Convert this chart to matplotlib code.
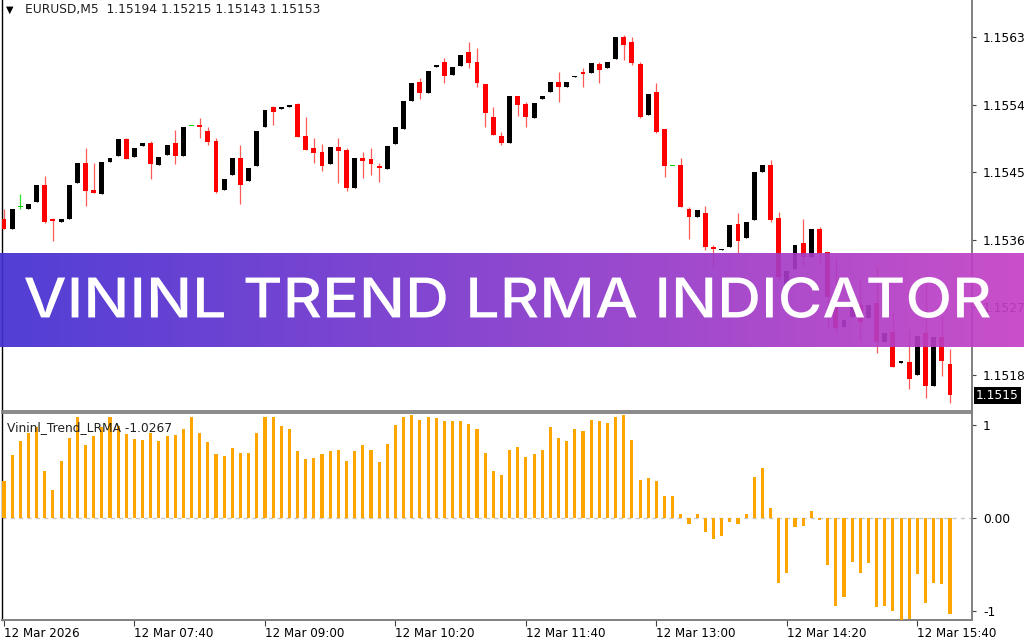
import numpy as np
import matplotlib
matplotlib.use("Agg")
import matplotlib.pyplot as plt
import matplotlib.transforms as mtransforms
from matplotlib.textpath import TextPath
from matplotlib.patches import PathPatch
from matplotlib.font_manager import FontProperties

# EURUSD M5, 12 Mar 2026, bars from 06:20 to 16:00
opens = [1.15388, 1.15374, 1.15404, 1.15401, 1.15410, 1.15433, 1.15388, 1.15384, 1.15388, 1.15436,
         1.15462, 1.15426, 1.15421, 1.15464, 1.15472, 1.15494, 1.15470, 1.15485, 1.15489, 1.15460,
         1.15473, 1.15489, 1.15472, 1.15511, 1.15513, 1.15505, 1.15492, 1.15426, 1.15446, 1.15469,
         1.15438, 1.15458, 1.15510, 1.15537, 1.15534, 1.15537, 1.15541, 1.15498, 1.15482, 1.15477,
         1.15461, 1.15484, 1.15480, 1.15429, 1.15469, 1.15468, 1.15458, 1.15454, 1.15488, 1.15507,
         1.15545, 1.15570, 1.15555, 1.15590, 1.15597, 1.15579, 1.15591, 1.15610, 1.15597, 1.15567,
         1.15523, 1.15498, 1.15489, 1.15551, 1.15541, 1.15522, 1.15547, 1.15557, 1.15570, 1.15563,
         1.15577, 1.15583, 1.15582, 1.15594, 1.15589, 1.15601, 1.15630, 1.15623, 1.15594, 1.15526,
         1.15557, 1.15507, 1.15458, 1.15460, 1.15401, 1.15390, 1.15396, 1.15350, 1.15346, 1.15350,
         1.15381, 1.15362, 1.15386, 1.15450, 1.15460, 1.15389, 1.15290, 1.15321, 1.15356, 1.15337,
         1.15374, 1.15344, 1.15289, 1.15244, 1.15257, 1.15273, 1.15256, 1.15276, 1.15224, 1.15237,
         1.15196, 1.15197, 1.15180, 1.15236, 1.15165, 1.15231, 1.15194]
highs = [1.15401, 1.15401, 1.15421, 1.15408, 1.15433, 1.15445, 1.15389, 1.15388, 1.15433, 1.15462,
         1.15482, 1.15462, 1.15464, 1.15469, 1.15494, 1.15496, 1.15482, 1.15489, 1.15492, 1.15470,
         1.15486, 1.15506, 1.15510, 1.15511, 1.15522, 1.15510, 1.15496, 1.15441, 1.15469, 1.15486,
         1.15456, 1.15505, 1.15533, 1.15538, 1.15537, 1.15539, 1.15542, 1.15523, 1.15496, 1.15488,
         1.15484, 1.15496, 1.15482, 1.15469, 1.15477, 1.15482, 1.15462, 1.15485, 1.15510, 1.15545,
         1.15569, 1.15575, 1.15585, 1.15593, 1.15602, 1.15590, 1.15606, 1.15623, 1.15615, 1.15567,
         1.15537, 1.15503, 1.15551, 1.15551, 1.15543, 1.15542, 1.15551, 1.15570, 1.15583, 1.15570,
         1.15578, 1.15589, 1.15595, 1.15597, 1.15597, 1.15630, 1.15633, 1.15630, 1.15597, 1.15554,
         1.15569, 1.15507, 1.15458, 1.15469, 1.15404, 1.15400, 1.15405, 1.15353, 1.15348, 1.15380,
         1.15396, 1.15384, 1.15450, 1.15460, 1.15466, 1.15397, 1.15318, 1.15353, 1.15388, 1.15374,
         1.15377, 1.15344, 1.15337, 1.15253, 1.15277, 1.15306, 1.15273, 1.15324, 1.15236, 1.15264,
         1.15199, 1.15241, 1.15232, 1.15313, 1.15231, 1.15258, 1.15215]
lows = [1.15374, 1.15374, 1.15401, 1.15401, 1.15410, 1.15382, 1.15358, 1.15384, 1.15388, 1.15436,
        1.15405, 1.15422, 1.15421, 1.15464, 1.15472, 1.15468, 1.15470, 1.15485, 1.15441, 1.15460,
        1.15473, 1.15461, 1.15472, 1.15511, 1.15496, 1.15486, 1.15422, 1.15426, 1.15446, 1.15408,
        1.15438, 1.15458, 1.15510, 1.15513, 1.15534, 1.15537, 1.15497, 1.15480, 1.15462, 1.15452,
        1.15461, 1.15436, 1.15425, 1.15429, 1.15442, 1.15446, 1.15437, 1.15454, 1.15488, 1.15507,
        1.15545, 1.15547, 1.15555, 1.15590, 1.15569, 1.15579, 1.15591, 1.15589, 1.15563, 1.15510,
        1.15500, 1.15486, 1.15489, 1.15525, 1.15510, 1.15522, 1.15547, 1.15557, 1.15543, 1.15563,
        1.15577, 1.15563, 1.15582, 1.15569, 1.15589, 1.15601, 1.15599, 1.15593, 1.15522, 1.15526,
        1.15502, 1.15444, 1.15458, 1.15404, 1.15361, 1.15390, 1.15346, 1.15324, 1.15346, 1.15350,
        1.15342, 1.15362, 1.15386, 1.15450, 1.15384, 1.15306, 1.15290, 1.15321, 1.15326, 1.15337,
        1.15329, 1.15244, 1.15237, 1.15244, 1.15257, 1.15227, 1.15256, 1.15209, 1.15224, 1.15191,
        1.15196, 1.15161, 1.15180, 1.15149, 1.15165, 1.15179, 1.15143]
closes = [1.15374, 1.15401, 1.15404, 1.15408, 1.15433, 1.15384, 1.15385, 1.15388, 1.15433, 1.15462,
          1.15425, 1.15422, 1.15464, 1.15469, 1.15494, 1.15468, 1.15482, 1.15489, 1.15461, 1.15470,
          1.15486, 1.15472, 1.15510, 1.15511, 1.15510, 1.15490, 1.15424, 1.15441, 1.15469, 1.15433,
          1.15456, 1.15505, 1.15533, 1.15530, 1.15537, 1.15539, 1.15497, 1.15480, 1.15476, 1.15458,
          1.15484, 1.15478, 1.15429, 1.15469, 1.15465, 1.15461, 1.15456, 1.15485, 1.15510, 1.15545,
          1.15569, 1.15555, 1.15585, 1.15593, 1.15578, 1.15590, 1.15606, 1.15595, 1.15569, 1.15529,
          1.15500, 1.15489, 1.15551, 1.15539, 1.15523, 1.15542, 1.15551, 1.15570, 1.15563, 1.15570,
          1.15578, 1.15581, 1.15595, 1.15586, 1.15597, 1.15630, 1.15619, 1.15595, 1.15523, 1.15554,
          1.15503, 1.15458, 1.15458, 1.15404, 1.15390, 1.15400, 1.15350, 1.15348, 1.15348, 1.15380,
          1.15358, 1.15384, 1.15450, 1.15460, 1.15386, 1.15310, 1.15318, 1.15353, 1.15337, 1.15374,
          1.15342, 1.15284, 1.15243, 1.15253, 1.15277, 1.15250, 1.15273, 1.15224, 1.15236, 1.15191,
          1.15199, 1.15175, 1.15232, 1.15165, 1.15231, 1.15199, 1.15153]

# Vininl_Trend_LRMA histogram values, one per bar
lrma = [0.40, 0.67, 0.82, 0.91, 0.97, 0.50, 0.30, 0.61, 0.86, 1.08,
        0.78, 0.88, 0.97, 1.08, 0.98, 0.90, 0.84, 0.83, 0.91, 0.82,
        0.88, 0.89, 0.95, 1.08, 0.91, 0.81, 0.68, 0.66, 0.75, 0.70,
        0.70, 0.91, 1.08, 1.08, 0.98, 0.95, 0.72, 0.63, 0.64, 0.68,
        0.72, 0.73, 0.61, 0.72, 0.78, 0.73, 0.60, 0.79, 1.00, 1.08,
        1.10, 1.05, 1.08, 1.07, 1.04, 1.04, 1.04, 1.01, 0.95, 0.69,
        0.50, 0.46, 0.73, 0.76, 0.65, 0.68, 0.73, 0.97, 0.86, 0.82,
        0.95, 0.93, 1.05, 1.04, 1.02, 1.08, 1.10, 0.83, 0.41, 0.43,
        0.40, 0.24, 0.24, 0.04, -0.06, 0.04, -0.15, -0.22, -0.19, -0.04,
        -0.06, 0.04, 0.44, 0.54, 0.11, -0.70, -0.59, -0.10, -0.09, 0.08,
        -0.02, -0.50, -0.94, -0.85, -0.47, -0.59, -0.48, -0.95, -0.94, -0.99,
        -1.10, -1.08, -0.60, -0.91, -0.69, -0.71, -1.0267]

price_ticks = [1.1563, 1.1554, 1.1545, 1.1536, 1.1527, 1.1518]
lrma_ticks = [1, 0, -1]
lrma_tick_labels = ["1", "0.00", "-1"]
time_tick_idx = [0, 16, 32, 48, 64, 80, 96, 112]
time_tick_labels = ["12 Mar 2026", "12 Mar 07:40", "12 Mar 09:00", "12 Mar 10:20",
                    "12 Mar 11:40", "12 Mar 13:00", "12 Mar 14:20", "12 Mar 15:40"]
header = "EURUSD,M5  1.15194 1.15215 1.15143 1.15153"
indicator_name = "Vininl_Trend_LRMA -1.0267"
banner_title = "VININL TREND LRMA INDICATOR"

W, H = 1024, 640
fig = plt.figure(figsize=(W / 100, H / 100), dpi=100)
fig.patch.set_facecolor("white")


def px_rect(x0, y0, x1, y1):
    # pixel box (top-left origin) -> figure fraction
    return [x0 / W, 1 - y1 / H, (x1 - x0) / W, (y1 - y0) / H]


ax1 = fig.add_axes(px_rect(2, 0, 972, 411))
ax2 = fig.add_axes(px_rect(2, 413, 972, 620))

o = np.array(opens)
h = np.array(highs)
l = np.array(lows)
c = np.array(closes)
idx = np.arange(len(o))

xlim = (-0.245, 118.7)
ylim1 = (1.151320, 1.156793)
one_px = (ylim1[1] - ylim1[0]) / 411

# candles: black = up, red = down, green = doji
groups = [(c > o, "black", "black"), (c < o, "#ff0000", "#ff5a5a"), (c == o, "#00d000", "#30e030")]
for mask, body_col, wick_col in groups:
    ax1.vlines(idx[mask], l[mask], h[mask], color=wick_col, lw=0.9, zorder=2)
    bottom = np.minimum(o, c)[mask]
    height = np.maximum(np.abs(c - o)[mask], one_px)
    ax1.bar(idx[mask], height, width=0.6, bottom=bottom, color=body_col, linewidth=0, zorder=3)

ax1.set_xlim(*xlim)
ax1.set_ylim(*ylim1)
ax1.set_xticks([])
ax1.yaxis.tick_right()
ax1.set_yticks(price_ticks, [f"{p:.4f}" for p in price_ticks])
ax1.tick_params(axis="y", length=3, width=0.8, color="#404040", pad=5, labelsize=8.8)

# current price tag
tag_tr = mtransforms.blended_transform_factory(ax1.transAxes, ax1.transData)
ax1.text(1.004, c[-1], f"{c[-1]:.4f}", transform=tag_tr, ha="left", va="center",
         color="white", fontsize=8.8, bbox=dict(fc="black", ec="none", pad=1.6), clip_on=False)

# indicator panel
ax2.bar(idx, lrma, width=0.38, color="#ffa500", linewidth=0, zorder=3)
ax2.axhline(0, color="#c8c8c8", lw=1, ls=(0, (3, 3)), zorder=1)
ax2.set_xlim(*xlim)
ax2.set_ylim(-1.091, 1.123)
ax2.yaxis.tick_right()
ax2.set_yticks(lrma_ticks, lrma_tick_labels)
ax2.tick_params(axis="y", length=3, width=0.8, color="#404040", pad=5, labelsize=8.8)
ax2.set_xticks(time_tick_idx, time_tick_labels)
ax2.tick_params(axis="x", length=4, width=0.8, color="#404040", pad=1, labelsize=8.6)
for lab in ax2.get_xticklabels():
    lab.set_ha("left")

for ax in (ax1, ax2):
    ax.set_facecolor("white")
    ax.spines["left"].set_color("black")
    ax.spines["left"].set_linewidth(1.0)
    ax.spines["right"].set_color("#808080")
    ax.spines["right"].set_linewidth(1.4)
ax1.spines["top"].set_visible(False)
ax1.spines["bottom"].set_color("#808080")
ax1.spines["bottom"].set_linewidth(1.3)
ax2.spines["top"].set_color("#808080")
ax2.spines["top"].set_linewidth(1.3)
ax2.spines["bottom"].set_color("#808080")
ax2.spines["bottom"].set_linewidth(1.4)

# header texts
fig.text(6 / W, 1 - 10 / H, "\u25bc", fontsize=7, va="center", ha="left", color="black")
fig.text(25 / W, 1 - 10 / H, header, fontsize=8.8, va="center", ha="left", color="#202020")
fig.text(7 / W, 1 - 428 / H, indicator_name, fontsize=8.8, va="center", ha="left", color="#202020")

# gradient banner across the chart
bax = fig.add_axes(px_rect(0, 253, 1024, 347), zorder=10)
t = np.linspace(0, 1, 256)
left_col = np.array([66, 46, 210]) / 255
right_col = np.array([196, 64, 196]) / 255
grad = left_col[None, :] * (1 - t[:, None]) + right_col[None, :] * t[:, None]
bax.imshow(grad[None, :, :], aspect="auto", extent=[0, 1, 0, 1], alpha=0.92, interpolation="bilinear")
bax.set_xlim(0, 1)
bax.set_ylim(0, 1)
bax.axis("off")

fp = FontProperties(family="Inter", weight="medium")
tp = TextPath((0, 0), banner_title, size=50, prop=fp)
bb = tp.get_extents()
tx0, tx1, ty_top, ty_bot = 25, 990, 277, 318
sx = (tx1 - tx0) / bb.width
sy = (ty_bot - ty_top) / bb.height
tr = mtransforms.Affine2D().translate(-bb.x0, -bb.y0).scale(sx, sy).translate(tx0, H - ty_bot)
title_patch = PathPatch(tr.transform_path(tp), fc="white", ec="none",
                        transform=mtransforms.IdentityTransform(), zorder=11)
fig.add_artist(title_patch)

fig.savefig("out.png", dpi=100)
